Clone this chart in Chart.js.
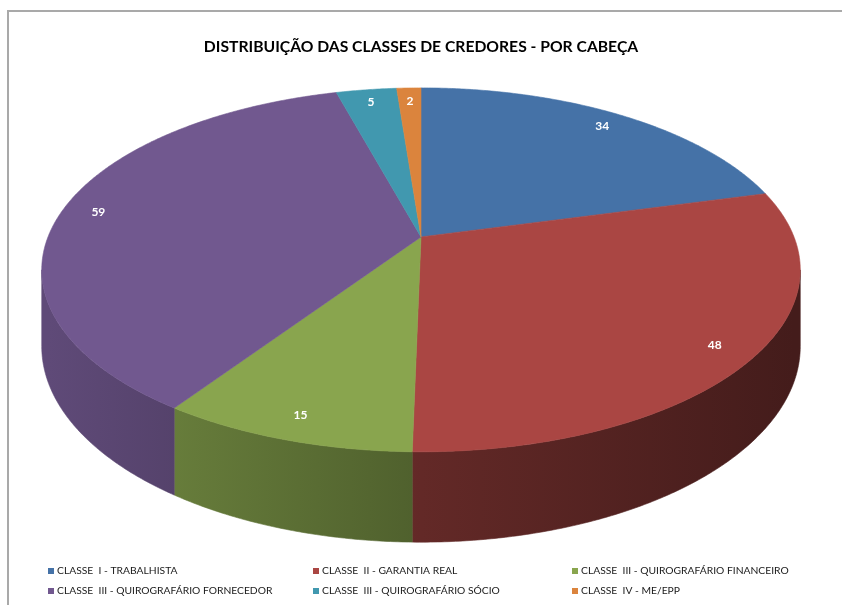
<!DOCTYPE html>
<html>
<head>
<meta charset="utf-8">
<script src="https://cdn.jsdelivr.net/npm/chart.js@4.4.1/dist/chart.umd.min.js"></script>
<style>
  html, body { margin: 0; padding: 0; background: #fff; overflow: hidden; }
</style>
</head>
<body>
<canvas id="pieChart" width="842" height="605"></canvas>
<script>
// data
const classes = [
    'CLASSE  I - TRABALHISTA',
    'CLASSE  II - GARANTIA REAL',
    'CLASSE  III - QUIROGRAFÁRIO FINANCEIRO',
    'CLASSE  III - QUIROGRAFÁRIO FORNECEDOR',
    'CLASSE  III - QUIROGRAFÁRIO SÓCIO',
    'CLASSE  IV - ME/EPP'
];
const credores = [34, 48, 15, 59, 5, 2];
const sliceColors = ['#4572A7', '#AA4643', '#89A54E', '#71588F', '#4198AF', '#DB843D'];

const shade = (hex, f) => {
    const n = parseInt(hex.slice(1), 16);
    const r = Math.round(((n >> 16) & 255) * f);
    const g = Math.round(((n >> 8) & 255) * f);
    const b = Math.round((n & 255) * f);
    return `rgb(${r}, ${g}, ${b})`;
}

// tilted 3d pie, slices come from the arc elements chart.js lays out
const pie3d = {
    id: 'pie3d',
    beforeDatasetsDraw(chart, args, opts) {
        const ctx = chart.ctx;
        const arcs = chart.getDatasetMeta(0).data;
        const colors = chart.data.datasets[0].backgroundColor;
        const project = (arc, ang, f) => {
            const u = Math.cos(ang) * f, v = Math.sin(ang) * f;
            const w = 1 - opts.persp * v;
            return { x: arc.x + opts.rx * u / w, y: arc.y + opts.ry * v / w, u: u, v: v, w: w };
        };
        const steps = (a0, a1) => Math.max(2, Math.ceil((a1 - a0) / 0.008));

        // side wall, only the part facing the viewer
        const lo = Math.asin(opts.persp), hi = Math.PI - lo;
        ctx.save();
        arcs.forEach((arc, i) => {
            const a0 = Math.max(arc.startAngle, lo), a1 = Math.min(arc.endAngle, hi);
            if (a1 <= a0) return;
            const n = steps(a0, a1);
            const top = [];
            for (let k = 0; k <= n; k++) top.push(project(arc, a0 + (a1 - a0) * k / n, 1));
            const grad = ctx.createLinearGradient(arc.x - opts.rx, 0, arc.x + opts.rx, 0);
            grad.addColorStop(0, shade(colors[i], 0.84));
            grad.addColorStop(0.5, shade(colors[i], 0.58));
            grad.addColorStop(1, shade(colors[i], 0.4));
            ctx.beginPath();
            top.forEach((p, k) => k ? ctx.lineTo(p.x, p.y) : ctx.moveTo(p.x, p.y));
            for (let k = top.length - 1; k >= 0; k--) {
                ctx.lineTo(top[k].x, top[k].y + opts.depth / top[k].w);
            }
            ctx.closePath();
            ctx.fillStyle = grad;
            ctx.strokeStyle = grad;
            ctx.lineWidth = 0.6;
            ctx.fill();
            ctx.stroke();
        });

        // top face
        arcs.forEach((arc, i) => {
            const n = steps(arc.startAngle, arc.endAngle);
            ctx.beginPath();
            ctx.moveTo(arc.x, arc.y);
            for (let k = 0; k <= n; k++) {
                const p = project(arc, arc.startAngle + (arc.endAngle - arc.startAngle) * k / n, 1);
                ctx.lineTo(p.x, p.y);
            }
            ctx.closePath();
            ctx.fillStyle = colors[i];
            ctx.strokeStyle = colors[i];
            ctx.lineWidth = 0.6;
            ctx.fill();
            ctx.stroke();
        });

        // value labels
        ctx.font = 'bold 12px Lato';
        ctx.fillStyle = '#fff';
        ctx.textAlign = 'center';
        ctx.textBaseline = 'middle';
        arcs.forEach((arc, i) => {
            const p = project(arc, (arc.startAngle + arc.endAngle) / 2, opts.labelAt);
            ctx.fillText(chart.data.datasets[0].data[i], p.x, p.y);
        });
        ctx.restore();
        return false;
    }
}

// frame and legend in three columns
const frameLegend = {
    id: 'frameLegend',
    beforeDraw(chart) {
        const ctx = chart.ctx;
        ctx.save();
        ctx.fillStyle = '#a9a9a9';
        ctx.fillRect(7, 10, 835, 2);
        ctx.fillRect(7, 10, 2, 595);
        ctx.restore();
    },
    afterDraw(chart, args, opts) {
        const ctx = chart.ctx;
        const colors = chart.data.datasets[0].backgroundColor;
        ctx.save();
        ctx.font = '10.3px Lato';
        ctx.textBaseline = 'middle';
        chart.data.labels.forEach((label, i) => {
            const x = opts.cols[i % 3], y = opts.rows[Math.floor(i / 3)];
            ctx.fillStyle = colors[i];
            ctx.fillRect(x, y - 3, 6, 6);
            ctx.fillStyle = '#1a1a1a';
            ctx.fillText(label, x + 9, y);
        });
        ctx.restore();
    }
}

const ctx = document.getElementById('pieChart');

const pieChart = new Chart(ctx, {
    type: 'pie',
    data: {
        labels: classes,
        datasets: [{
            data: credores,
            backgroundColor: sliceColors,
            borderWidth: 0
        }]
    },
    options: {
        responsive: false,
        animation: false,
        events: [],
        layout: {
            padding: { top: 0, bottom: 197, left: 0, right: 0 }
        },
        plugins: {
            title: {
                display: true,
                text: 'DISTRIBUIÇÃO DAS CLASSES DE CREDORES - POR CABEÇA',
                color: '#000',
                font: { family: 'Lato', size: 15.7, weight: 'bold' },
                padding: { top: 38, bottom: 9 }
            },
            legend: { display: false },
            tooltip: { enabled: false },
            pie3d: { rx: 373, ry: 176, persp: 0.181, depth: 74, labelAt: 0.9 },
            frameLegend: { cols: [48, 313, 572], rows: [571, 591] }
        }
    },
    plugins: [frameLegend, pie3d]
});
</script>
</body>
</html>
